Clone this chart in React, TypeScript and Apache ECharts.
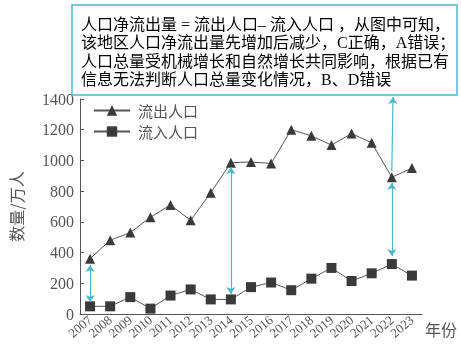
import React, { useEffect, useRef } from "react";
import * as echarts from "echarts";

const years = ["2007", "2008", "2009", "2010", "2011", "2012", "2013", "2014", "2015", "2016", "2017", "2018", "2019", "2020", "2021", "2022", "2023"];
const outflow = [360, 480, 530, 630, 710, 610, 790, 985, 990, 980, 1200, 1160, 1100, 1175, 1115, 890, 950];
const inflow = [50, 50, 110, 35, 120, 160, 95, 95, 175, 205, 155, 230, 300, 215, 265, 325, 250];
const yTicks = { min: 0, max: 1400, interval: 200 };

// double-headed arrows between the two lines
const arrowYears = ["2007", "2014", "2022"];
const arrowTop = [319, 955, 853];
const arrowBottom = [78, 130, 377];
// pointer from 2022 up to the note box
const pointerFrom = { year: "2022", value: 930 };
const pointerTo = { x: 393, y: 97 };

const noteLines = [
  [{ t: "人口净流出量 = 流出人口– 流入人口 ，从图中可知，", c: false }],
  [{ t: "该地区人口净流出量先增加后减少，", c: false }, { t: "C正确，A错误；", c: true }],
  [{ t: "人口总量受机械增长和自然增长共同影响，根据已有", c: false }],
  [{ t: "信息无法判断人口总量变化情况，", c: false }, { t: "B、D错误", c: true }],
];

const CYAN = "#4db8ca";
const GRAY = "#555";
const SERIF = "Liberation Serif";
const CJK = "Noto Sans CJK SC";
const MIX = "Liberation Serif, Noto Sans CJK SC";

export default function App() {
  const ref = useRef<HTMLDivElement>(null);
  useEffect(() => {
    if (!ref.current) return;
    const chart = echarts.init(ref.current, null, { renderer: "svg" });
    const noteText = noteLines
      .map((line) => line.map((s) => `{${s.c ? "c" : "g"}|${s.t}}`).join(""))
      .join("\n");
    const markData: any[] = arrowYears.map((y, i) => [
      { coord: [y, arrowTop[i]] },
      { coord: [y, arrowBottom[i]] },
    ]);
    markData.push([
      { coord: [pointerFrom.year, pointerFrom.value], symbol: "none" },
      { x: pointerTo.x, y: pointerTo.y, symbol: "arrow" },
    ]);
    chart.setOption({
      animation: false,
      grid: { left: 56, right: 39, top: 99, bottom: 40, containLabel: false },
      legend: {
        orient: "vertical",
        left: 88,
        top: 98,
        itemWidth: 36,
        itemHeight: 13,
        itemGap: 6,
        textStyle: { fontSize: 15, color: GRAY, fontFamily: CJK, padding: [0, 0, 0, 3] },
        data: ["流出人口", "流入人口"],
      },
      xAxis: {
        type: "category",
        data: years,
        boundaryGap: true,
        name: "年份",
        nameLocation: "end",
        nameGap: 3,
        nameTextStyle: { fontSize: 16, color: GRAY, fontFamily: CJK, verticalAlign: "top", padding: [7, 0, 0, 0] },
        axisLine: { lineStyle: { color: GRAY, width: 1 } },
        axisTick: { inside: true, length: 4, lineStyle: { color: GRAY } },
        axisLabel: { interval: 0, rotate: 40, fontSize: 13, color: GRAY, fontFamily: SERIF, margin: 4 },
        splitLine: { show: false },
      },
      yAxis: {
        type: "value",
        min: yTicks.min,
        max: yTicks.max,
        interval: yTicks.interval,
        name: "数量/万人",
        nameLocation: "middle",
        nameRotate: 90,
        nameGap: 56,
        nameTextStyle: { fontSize: 16, color: GRAY, fontFamily: CJK },
        axisLine: { show: true, lineStyle: { color: GRAY, width: 1 } },
        axisTick: { show: true, inside: true, length: 4, lineStyle: { color: GRAY } },
        axisLabel: { fontSize: 16, color: GRAY, fontFamily: SERIF, margin: 6, formatter: (v: number) => String(v) },
        splitLine: { show: false },
      },
      series: [
        {
          name: "流出人口",
          type: "line",
          data: outflow,
          symbol: "triangle",
          symbolSize: 10,
          itemStyle: { color: "#3a3a3a" },
          lineStyle: { color: GRAY, width: 1 },
          emphasis: { disabled: true },
          markLine: {
            silent: true,
            symbol: ["arrow", "arrow"],
            symbolSize: 7,
            label: { show: false },
            lineStyle: { color: CYAN, type: "solid", width: 1.2 },
            emphasis: { disabled: true },
            data: markData,
          },
        },
        {
          name: "流入人口",
          type: "line",
          data: inflow,
          symbol: "rect",
          symbolSize: 10,
          itemStyle: { color: "#3a3a3a" },
          lineStyle: { color: GRAY, width: 1 },
          emphasis: { disabled: true },
        },
      ],
      graphic: [
        {
          type: "rect",
          z: 10,
          shape: { x: 72, y: 5, width: 385, height: 90 },
          style: { fill: "#fff", stroke: CYAN, lineWidth: 1.5 },
        },
        {
          type: "text",
          z: 11,
          x: 81,
          y: 15,
          style: {
            text: noteText,
            verticalAlign: "top",
            align: "left",
            rich: {
              g: { fontSize: 16, fontFamily: MIX, color: "#5a5a5a", lineHeight: 18.5 },
              c: { fontSize: 16, fontFamily: MIX, color: CYAN, lineHeight: 18.5 },
            },
          },
        },
      ],
    });
    return () => chart.dispose();
  }, []);
  return <div ref={ref} style={{ position: "fixed", left: 0, top: 0, width: 461, height: 354 }} />;
}
